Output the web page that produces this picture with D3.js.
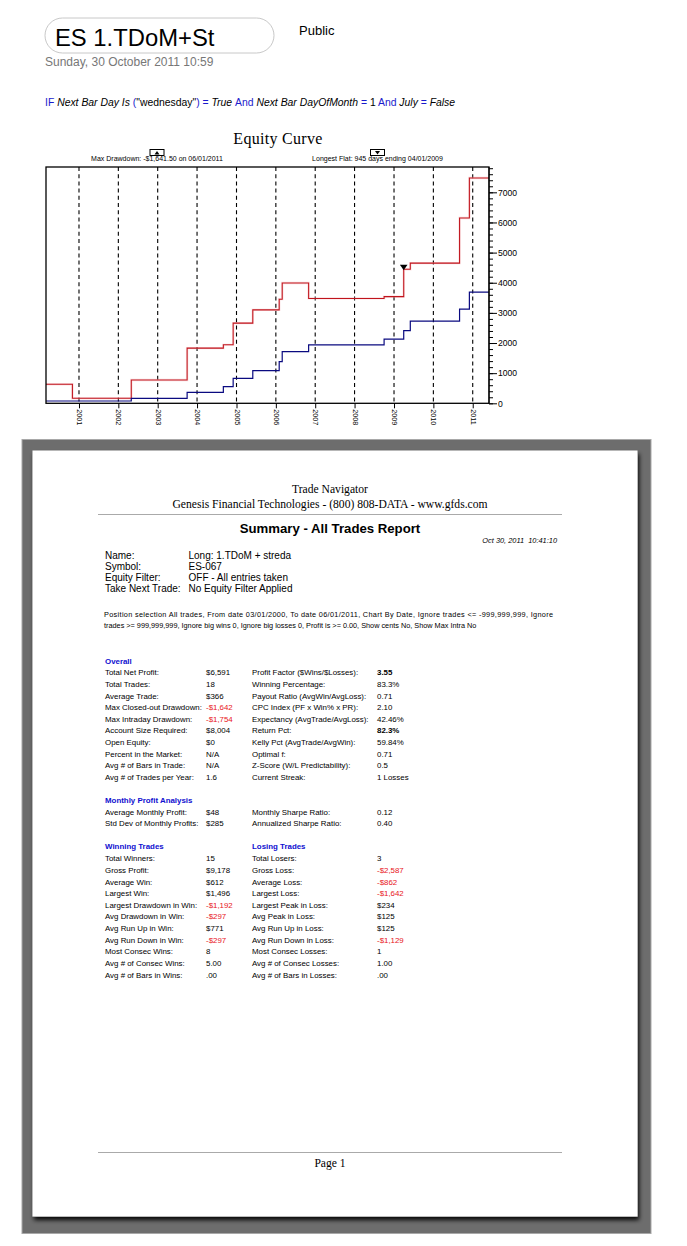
<!DOCTYPE html>
<html><head><meta charset="utf-8">
<script src="https://cdn.jsdelivr.net/npm/d3@7"></script>
<style>html,body{margin:0;padding:0;background:#fff;} svg{display:block;}</style>
</head><body><svg id="c" width="687" height="1246"></svg>
<script>
// ---------- DATA ----------
const stepDates = ["2000-03-01","2000-11-01","2002-05-01","2003-10-01","2004-09-01","2004-12-01","2005-06-01","2006-02-01","2006-03-01","2006-11-01","2008-10-01","2009-04-01","2009-06-01","2010-09-01","2010-12-01","2011-06-01"];
const redEquity  = [630,170,775,1830,1940,2660,3100,3455,3990,3480,3540,4450,4650,6150,7475,7475];
const blueEquity = [76,76,166,365,552,830,1083,1382,1714,1937,2126,2412,2724,3123,3688,3688];
const yearTicks = [2001,2002,2003,2004,2005,2006,2007,2008,2009,2010,2011];
const yTickValues = [0,1000,2000,3000,4000,5000,6000,7000];
const flatMarkerDate = "2009-04-01";
const flatMarkerValue = 4450;

const nameLabels = ["Name:","Symbol:","Equity Filter:","Take Next Trade:"];
const nameValues = ["Long: 1.TDoM + streda","ES-067","OFF - All entries taken","No Equity Filter Applied"];

const overallLabels1 = ["Total Net Profit:","Total Trades:","Average Trade:","Max Closed-out Drawdown:","Max Intraday Drawdown:","Account Size Required:","Open Equity:","Percent in the Market:","Avg # of Bars in Trade:","Avg # of Trades per Year:"];
const overallValues1 = ["$6,591","18","$366","-$1,642","-$1,754","$8,004","$0","N/A","N/A","1.6"];
const overallLabels2 = ["Profit Factor ($Wins/$Losses):","Winning Percentage:","Payout Ratio (AvgWin/AvgLoss):","CPC Index (PF x Win% x PR):","Expectancy (AvgTrade/AvgLoss):","Return Pct:","Kelly Pct (AvgTrade/AvgWin):","Optimal f:","Z-Score (W/L Predictability):","Current Streak:"];
const overallValues2 = ["3.55","83.3%","0.71","2.10","42.46%","82.3%","59.84%","0.71","0.5","1 Losses"];

const monthlyLabels1 = ["Average Monthly Profit:","Std Dev of Monthly Profits:"];
const monthlyValues1 = ["$48","$285"];
const monthlyLabels2 = ["Monthly Sharpe Ratio:","Annualized Sharpe Ratio:"];
const monthlyValues2 = ["0.12","0.40"];

const winLabels = ["Total Winners:","Gross Profit:","Average Win:","Largest Win:","Largest Drawdown in Win:","Avg Drawdown in Win:","Avg Run Up in Win:","Avg Run Down in Win:","Most Consec Wins:","Avg # of Consec Wins:","Avg # of Bars in Wins:"];
const winValues = ["15","$9,178","$612","$1,496","-$1,192","-$297","$771","-$297","8","5.00",".00"];
const lossLabels = ["Total Losers:","Gross Loss:","Average Loss:","Largest Loss:","Largest Peak in Loss:","Avg Peak in Loss:","Avg Run Up in Loss:","Avg Run Down in Loss:","Most Consec Losses:","Avg # of Consec Losses:","Avg # of Bars in Losses:"];
const lossValues = ["3","-$2,587","-$862","-$1,642","$234","$125","$125","-$1,129","1","1.00",".00"];
const boldValues = ["3.55","82.3%"];

// ---------- DRAW ----------
const svg = d3.select("#c");
const SANS = "'Liberation Sans', Arial, Helvetica, sans-serif";
const SERIF = "'Liberation Serif', 'Times New Roman', serif";
const parse = d3.timeParse("%Y-%m-%d");

// header
svg.append("rect").attr("x",45).attr("y",18).attr("width",229).attr("height",35).attr("rx",17.5)
  .attr("fill","#fff").attr("stroke","#c8c8c8").attr("stroke-width",1);
svg.append("text").attr("x",55).attr("y",45.5).attr("font-family",SANS).attr("font-size",23.8)
  .attr("fill","#000").text("ES 1.TDoM+St");
svg.append("text").attr("x",299).attr("y",35).attr("font-family",SANS).attr("font-size",13).text("Public");
svg.append("text").attr("x",45).attr("y",66).attr("font-family",SANS).attr("font-size",12)
  .attr("fill","#777").text("Sunday, 30 October 2011 10:59");

const rule = svg.append("text").attr("x",45).attr("y",106).attr("font-family",SANS).attr("font-size",10.4);
const blue = "#1a1acc";
[["IF ",blue,0],["Next Bar Day Is ","#000",1],["(",blue,0],["\"wednesday\"","#000",0],[") = ",blue,0],["True ","#000",1],
 ["And ",blue,0],["Next Bar DayOfMonth ","#000",1],["= ",blue,0],["1 ","#000",0],["And ",blue,0],["July ","#000",1],["= ",blue,0],["False","#000",1]]
 .forEach(([t,c,it]) => rule.append("tspan").attr("fill",c).attr("font-style",it?"italic":"normal").text(t));

// ---------- chart ----------
const x = d3.scaleTime().domain([parse("2000-03-01"), parse("2011-06-01")]).range([46,489]);
const y = d3.scaleLinear().domain([0,7840]).range([403.3,167]);

svg.append("text").attr("x",278).attr("y",143.5).attr("text-anchor","middle")
  .attr("font-family",SERIF).attr("font-size",16).attr("letter-spacing",0.3).text("Equity Curve");

// top markers
function topMarker(cx, up, label){
  svg.append("rect").attr("x",cx-7).attr("y",149.5).attr("width",14).attr("height",6)
    .attr("fill","#fff").attr("stroke","#000").attr("stroke-width",1);
  const tri = up ? `M${cx-2.5},154.5L${cx+2.5},154.5L${cx},151z` : `M${cx-2.5},151L${cx+2.5},151L${cx},154.5z`;
  svg.append("path").attr("d",tri).attr("fill","#000");
  svg.append("text").attr("x",cx).attr("y",160.5).attr("text-anchor","middle")
    .attr("font-family",SANS).attr("font-size",7).text(label);
}
topMarker(157, true, "Max Drawdown: -$1,641.50 on 06/01/2011");
topMarker(377.5, false, "Longest Flat: 945 days ending 04/01/2009");

// grid
const g = svg.append("g");
g.selectAll("line.grid").data(yearTicks).join("line").attr("class","grid")
  .attr("x1",d=>x(new Date(d,0,1))).attr("x2",d=>x(new Date(d,0,1)))
  .attr("y1",167).attr("y2",403.3).attr("stroke","#000").attr("stroke-width",1.1).attr("stroke-dasharray","4,3.2");

// lines
const pts = (vals) => stepDates.map((d,i)=>({d:parse(d), v:vals[i]}));
const line = d3.line().x(p=>x(p.d)).y(p=>y(p.v)).curve(d3.curveStepAfter);
g.append("path").datum(pts(redEquity)).attr("d",line).attr("fill","none").attr("stroke","#f5b5bb").attr("stroke-width",2.4).attr("opacity",0.45);
g.append("path").datum(pts(redEquity)).attr("d",line).attr("fill","none").attr("stroke","#c0141c").attr("stroke-width",1.05);
g.append("path").datum(pts(blueEquity)).attr("d",line).attr("fill","none").attr("stroke","#0a0a80").attr("stroke-width",1.2);

// flat marker
const mx = x(parse(flatMarkerDate)), my = y(flatMarkerValue);
g.append("path").attr("d",`M${mx-3.8},${my-4.5}L${mx+3.8},${my-4.5}L${mx},${my+1}z`).attr("fill","#000");

// frame
svg.append("rect").attr("x",46).attr("y",167).attr("width",443).attr("height",236.3)
  .attr("fill","none").attr("stroke","#000").attr("stroke-width",1.3);

// y axis (right)
const yAxisMinor = d3.axisRight(y).tickValues(d3.range(0,7801,200)).tickSize(4).tickFormat("");
const ya = svg.append("g").attr("transform","translate(489,0)").call(yAxisMinor);
ya.select(".domain").remove();
ya.selectAll("line").attr("stroke","#000");
const yAxis = d3.axisRight(y).tickValues(yTickValues).tickSize(8).tickPadding(1).tickFormat(d3.format("d"));
const yb = svg.append("g").attr("transform","translate(489,0)").call(yAxis);
yb.select(".domain").attr("stroke","#000").attr("d","M0,167V403.3");
yb.selectAll("text").attr("font-family",SANS).attr("font-size",8.6).attr("fill","#000");
yb.selectAll("line").attr("stroke","#000");

// x axis
const xAxis = d3.axisBottom(x).tickValues(yearTicks.map(d=>new Date(d,0,1))).tickSize(5).tickFormat(d3.timeFormat("%Y"));
const xa = svg.append("g").attr("transform","translate(0,403.3)").call(xAxis);
xa.select(".domain").remove();
xa.selectAll("line").attr("stroke","#000");
xa.selectAll("text").attr("font-family",SANS).attr("font-size",7.2).attr("fill","#000")
  .attr("transform","rotate(90)").attr("text-anchor","start").attr("x",6).attr("y",0).attr("dy","0.33em");

// ---------- report page ----------
const defs = svg.append("defs");
const f = defs.append("filter").attr("id","sh").attr("x","-5%").attr("y","-5%").attr("width","115%").attr("height","115%");
f.append("feDropShadow").attr("dx",1.5).attr("dy",3.5).attr("stdDeviation",2).attr("flood-color","#000").attr("flood-opacity",0.95);

svg.append("rect").attr("x",22).attr("y",439.5).attr("width",629).attr("height",794)
  .attr("fill","#6d6d6d").attr("stroke","#a8a8a8").attr("stroke-width",1);
svg.append("rect").attr("x",32.5).attr("y",450.5).attr("width",605).attr("height",766)
  .attr("fill","#fff").attr("filter","url(#sh)");

const cxp = 330;
svg.append("text").attr("x",cxp).attr("y",493).attr("text-anchor","middle").attr("font-family",SERIF).attr("font-size",11.6).text("Trade Navigator");
svg.append("text").attr("x",cxp).attr("y",507.5).attr("text-anchor","middle").attr("font-family",SERIF).attr("font-size",11.6).text("Genesis Financial Technologies - (800) 808-DATA - www.gfds.com");
svg.append("line").attr("x1",98).attr("x2",562).attr("y1",514.5).attr("y2",514.5).attr("stroke","#aaa").attr("stroke-width",1);
svg.append("text").attr("x",cxp).attr("y",533).attr("text-anchor","middle").attr("font-family",SANS).attr("font-weight","bold").attr("font-size",13.2).text("Summary - All Trades Report");
svg.append("text").attr("x",557).attr("y",543).attr("text-anchor","end").attr("font-family",SANS).attr("font-style","italic").attr("font-size",7.4).attr("xml:space","preserve").text("Oct 30, 2011  10:41:10");

nameLabels.forEach((t,i)=>{
  svg.append("text").attr("x",105).attr("y",559+i*11).attr("font-family",SANS).attr("font-size",10).text(t);
  svg.append("text").attr("x",188.5).attr("y",559+i*11).attr("font-family",SANS).attr("font-size",10).text(nameValues[i]);
});
svg.append("text").attr("x",104).attr("y",617).attr("font-family",SANS).attr("font-size",7.3)
  .attr("textLength",449).attr("lengthAdjust","spacing")
  .text("Position selection All trades, From date 03/01/2000, To date 06/01/2011, Chart By Date, Ignore trades <= -999,999,999, Ignore");
svg.append("text").attr("x",104).attr("y",628).attr("font-family",SANS).attr("font-size",7.3)
  .text("trades >= 999,999,999, Ignore big wins 0, Ignore big losses 0, Profit is >= 0.00, Show cents No, Show Max Intra No");

const TF = 7.9;
function header(t, xx, yy){
  svg.append("text").attr("x",xx).attr("y",yy).attr("font-family",SANS).attr("font-weight","bold")
    .attr("font-size",TF).attr("fill","#1010d0").text(t);
}
function column(labels, values, lx, vx, y0, step){
  labels.forEach((t,i)=>{
    const yy = y0 + i*step;
    svg.append("text").attr("x",lx).attr("y",yy).attr("font-family",SANS).attr("font-size",TF).text(t);
    const v = values[i];
    svg.append("text").attr("x",vx).attr("y",yy).attr("font-family",SANS).attr("font-size",TF)
      .attr("fill", v.startsWith("-") ? "#e8141c" : "#000")
      .attr("font-weight", boldValues.includes(v) ? "bold" : "normal").text(v);
  });
}
header("Overall",105,663.5);
column(overallLabels1, overallValues1, 105, 206, 675.3, 11.6);
column(overallLabels2, overallValues2, 252, 377, 675.3, 11.6);
header("Monthly Profit Analysis",105,803);
column(monthlyLabels1, monthlyValues1, 105, 206, 814.7, 11.6);
column(monthlyLabels2, monthlyValues2, 252, 377, 814.7, 11.6);
header("Winning Trades",105,849);
header("Losing Trades",252,849);
column(winLabels, winValues, 105, 206, 861.3, 11.63);
column(lossLabels, lossValues, 252, 377, 861.3, 11.63);

svg.append("line").attr("x1",98).attr("x2",562).attr("y1",1152.5).attr("y2",1152.5).attr("stroke","#aaa").attr("stroke-width",1);
svg.append("text").attr("x",cxp).attr("y",1167).attr("text-anchor","middle").attr("font-family",SERIF).attr("font-size",11.6).text("Page 1");
</script>
</body></html>
